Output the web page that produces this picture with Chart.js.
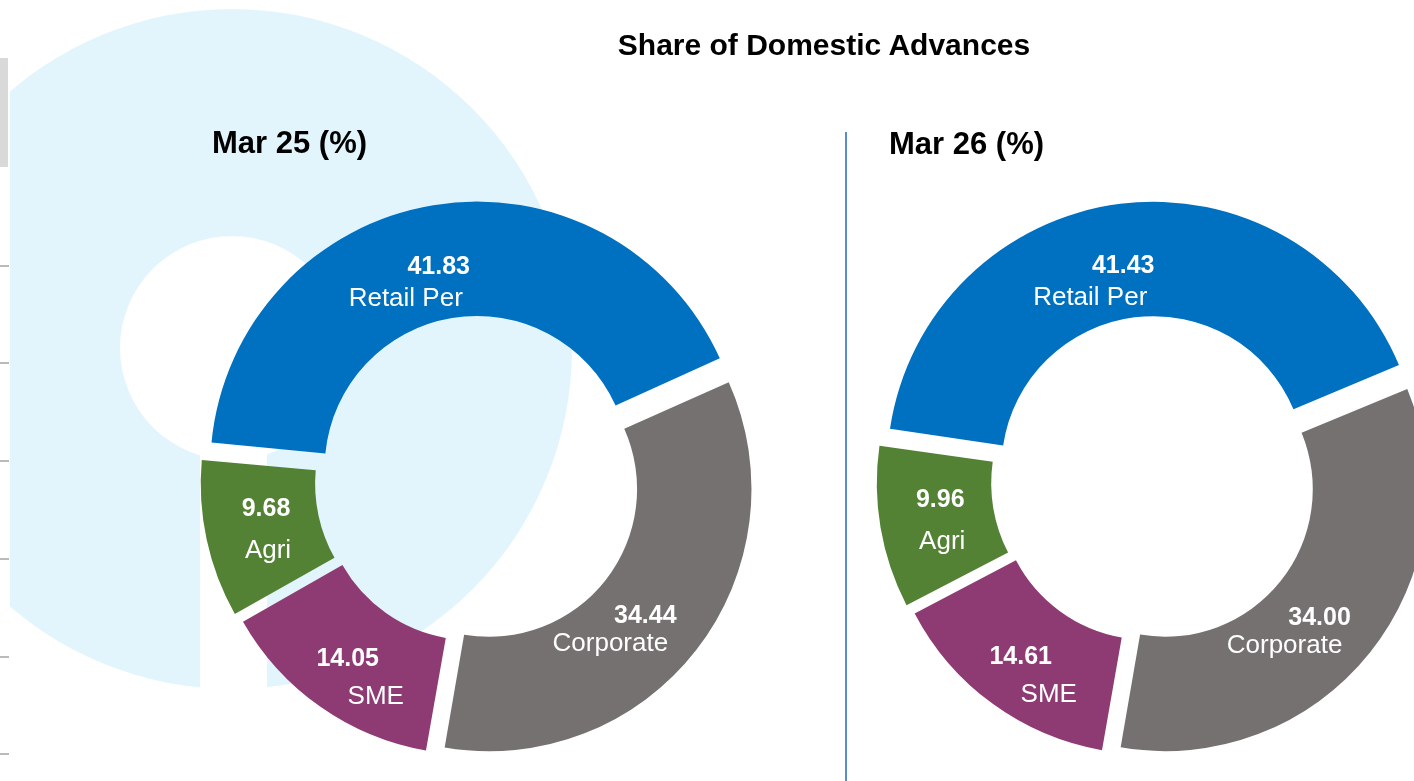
<!DOCTYPE html>
<html>
<head>
<meta charset="utf-8">
<title>Share of Domestic Advances</title>
<script src="https://cdn.jsdelivr.net/npm/chart.js@4.4.1/dist/chart.umd.min.js"></script>
<style>
  html, body { margin: 0; padding: 0; background: #fff; }
  body { width: 1414px; height: 781px; overflow: hidden; position: relative; font-family: "Liberation Sans", Arial, sans-serif; }
  #bg { position: absolute; left: 0; top: 0; }
  .pie { position: absolute; top: 181px; width: 600px; height: 600px; }
  #pie25 { left: 179px; }
  #pie26 { left: 855px; }
  .head { position: absolute; font-weight: bold; color: #000; line-height: 1; white-space: nowrap; }
  #title { font-size: 30px; left: 824px; top: 30px; transform: translateX(-50%); }
  #h25 { font-size: 31px; left: 212px; top: 127px; }
  #h26 { font-size: 31px; left: 889px; top: 128px; }
  #divider { position: absolute; left: 845px; top: 132px; width: 1.5px; height: 650px; background: #5A8AD0; }
</style>
</head>
<body>
<canvas id="bg" width="1414" height="781"></canvas>
<div class="pie" id="pie25"><canvas id="c25" width="600" height="600"></canvas></div>
<div class="pie" id="pie26"><canvas id="c26" width="600" height="600"></canvas></div>
<div id="divider"></div>
<div class="head" id="title">Share of Domestic Advances</div>
<div class="head" id="h25">Mar 25 (%)</div>
<div class="head" id="h26">Mar 26 (%)</div>
<script>
const CATEGORIES = ['Retail Per', 'Corporate', 'SME', 'Agri'];
const MAR25 = [41.83, 34.44, 14.05, 9.68];
const MAR26 = [41.43, 34.00, 14.61, 9.96];
const COLORS = ['#0070C0', '#767171', '#8E3B74', '#548235'];

const FONT = '"Liberation Sans", Arial, sans-serif';

// label placement relative to slice centre: [valueDx, valueDy, nameDx, nameDy]
const NUDGE = {
  'Retail Per': [-5, 6, -38, 38],
  'Corporate':  [-4, 9, -39, 37],
  'SME':        [-7, 9, 21, 47],
  'Agri':       [-2, -10, 0, 32]
};

// background: faint logo watermark + cut-off table on the left edge
const bg = document.getElementById('bg').getContext('2d');
bg.save();
bg.beginPath(); bg.rect(10, 0, 1414, 781); bg.clip();
bg.fillStyle = '#E3F5FC';
bg.beginPath(); bg.arc(232, 349, 340, 0, Math.PI * 2); bg.fill();
bg.restore();
bg.fillStyle = '#fff';
bg.beginPath(); bg.arc(232, 348, 112, 0, Math.PI * 2); bg.fill();
bg.fillRect(200, 348, 67, 342);
bg.fillStyle = '#D9D9D9';
bg.fillRect(0, 58, 8, 109);
bg.strokeStyle = '#8C8C8C'; bg.lineWidth = 1.2;
[266, 363, 461, 559, 657, 754].forEach(y => {
  bg.beginPath(); bg.moveTo(0, y); bg.lineTo(9, y); bg.stroke();
});

const sliceLabels = {
  id: 'sliceLabels',
  afterDatasetsDraw(chart) {
    const { ctx } = chart;
    const meta = chart.getDatasetMeta(0);
    const ds = chart.data.datasets[0];
    const shift = (ds.offset || 0) / 4;
    ctx.save();
    ctx.fillStyle = '#fff';
    ctx.textAlign = 'center';
    ctx.textBaseline = 'alphabetic';
    meta.data.forEach((arc, i) => {
      const p = arc.getProps(['x', 'y', 'startAngle', 'endAngle', 'innerRadius', 'outerRadius'], true);
      const mid = (p.startAngle + p.endAngle) / 2;
      const r = (p.innerRadius + p.outerRadius) / 2 + shift;
      const px = p.x + Math.cos(mid) * r, py = p.y + Math.sin(mid) * r;
      const n = NUDGE[chart.data.labels[i]];
      ctx.font = 'bold 25px ' + FONT;
      ctx.fillText(ds.data[i].toFixed(2), px + n[0], py + n[1]);
      ctx.font = '26px ' + FONT;
      ctx.fillText(chart.data.labels[i], px + n[2], py + n[3]);
    });
    ctx.restore();
  }
};

const donut = (id, values, rotation) => new Chart(document.getElementById(id), {
  type: 'doughnut',
  data: {
    labels: CATEGORIES,
    datasets: [{ data: values, backgroundColor: COLORS, borderWidth: 0, offset: 52, hoverOffset: 0 }]
  },
  options: {
    responsive: false, animation: false,
    rotation: rotation, radius: 260, cutout: '56%',
    layout: { padding: 0 },
    plugins: { legend: { display: false }, tooltip: { enabled: false } }
  },
  plugins: [sliceLabels]
});

donut('c25', MAR25, -84.7);
donut('c26', MAR26, -81.7);
</script>
</body>
</html>
